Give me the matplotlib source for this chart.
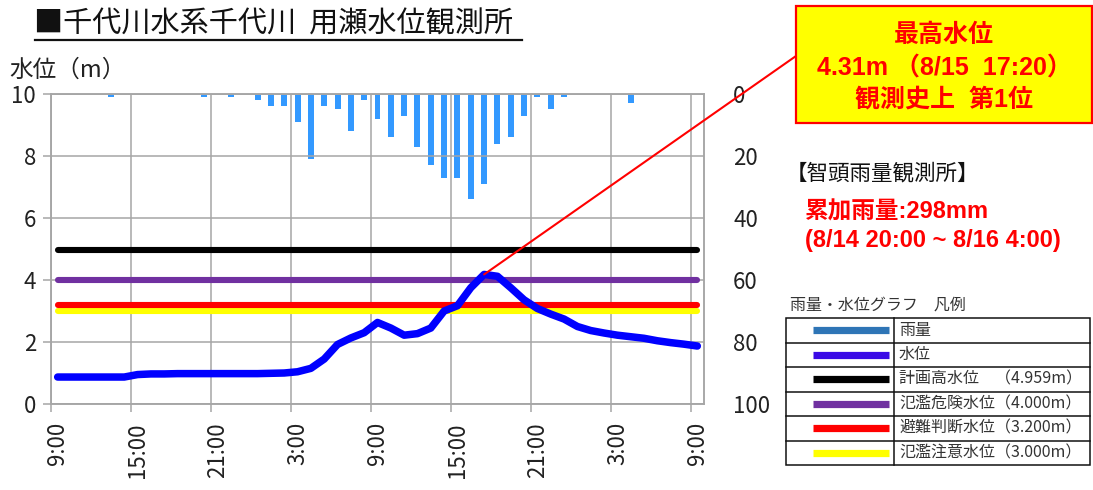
import numpy as np
import matplotlib.pyplot as plt
from matplotlib.patches import Rectangle, ConnectionPatch
from matplotlib.lines import Line2D

plt.rcParams['font.family'] = ['Noto Sans CJK JP', 'DejaVu Sans']

W, H = 1093, 490

# hourly categories, 8/14 9:00 ... 8/16 9:00
tick_labels = ['9:00', '15:00', '21:00', '3:00', '9:00', '15:00', '21:00', '3:00', '9:00']
level = [0.87, 0.87, 0.87, 0.87, 0.87, 0.87, 0.95, 0.97, 0.97, 0.98,
         0.98, 0.98, 0.98, 0.98, 0.98, 0.98, 0.99, 1.00, 1.04, 1.15,
         1.45, 1.92, 2.13, 2.30, 2.63, 2.45, 2.22, 2.27, 2.45, 3.00,
         3.17, 3.75, 4.18, 4.12, 3.75, 3.36, 3.08, 2.90, 2.74, 2.50,
         2.37, 2.29, 2.22, 2.17, 2.12, 2.04, 1.98, 1.93, 1.87]

# rainfall (mm/h) at Chizu, category index -> value
rain_hours = [4, 11, 13] + list(range(15, 39)) + [43]
rain_mm = [1, 1, 1, 2, 4, 4, 9, 21, 4, 5, 12, 2, 8, 14, 7, 17, 23, 27, 27,
           34, 29, 16, 14, 7, 1, 5, 1, 3]

thr_values = [3.0, 3.2, 4.0, 4.959]
thr_colors = ['#FFFF00', '#FF0000', '#7030A0', '#000000']

legend_names = ['雨量', '水位', '計画高水位　（4.959m）', '氾濫危険水位（4.000m）',
                '避難判断水位（3.200m）', '氾濫注意水位（3.000m）']
legend_colors = ['#2E75B6', '#3A0AE6', '#000000', '#7030A0', '#FF0000', '#FFFF00']


def fx(x):
    return x / W


def fy(y):
    return 1 - y / H


fig = plt.figure(figsize=(W / 100, H / 100), dpi=100)
ax = fig.add_axes([fx(51), fy(404), fx(704) - fx(51), fy(94) - fy(404)])
ax2 = ax.twinx()

n = len(level)
pos = np.arange(n) + 0.5
grid_c = '#A6A6A6'

# rain bars hanging from top on inverted secondary axis
ax2.bar(np.array(rain_hours) + 0.5, rain_mm, width=0.45, color='#3399FF', zorder=2)
ax2.set_ylim(100, 0)
ax2.set_yticks(range(0, 101, 20))
ax2.tick_params(axis='y', length=0, pad=21, labelsize=16, labelcolor='#222222')

ax.set_zorder(ax2.get_zorder() + 1)
ax.patch.set_visible(False)

for v, c in zip(thr_values, thr_colors):
    ax.plot([pos[0], pos[-1]], [v, v], color=c, lw=4.4, solid_capstyle='round', zorder=3)
ax.plot(pos, level, color='#0000FF', lw=5.4, solid_capstyle='round',
        solid_joinstyle='round', zorder=4)

ax.set_xlim(0, n)
ax.set_ylim(0, 10)
ax.set_yticks(range(0, 11, 2))
ax.set_xticks(np.arange(0, n, 6))
ax.set_xticklabels([])
ax.set_xticks(np.arange(0, n, 6) + 0.5, minor=True)
ax.set_xticklabels(tick_labels, minor=True, rotation=90)
ax.tick_params(axis='x', which='major', length=5.5, color=grid_c, width=1.1)
ax.tick_params(axis='x', which='minor', length=0, pad=13, labelsize=16, labelcolor='#222222')
ax.tick_params(axis='y', length=5.8, color=grid_c, width=1.1, pad=5,
               labelsize=16, labelcolor='#222222')
ax.grid(True, color=grid_c, lw=1.1, zorder=1)
for a in (ax, ax2):
    for s in a.spines.values():
        s.set_color(grid_c)
        s.set_linewidth(1.1)

# title
fig.text(fx(34), fy(25), '■千代川水系千代川  用瀬水位観測所', fontsize=21,
         ha='left', va='center', color='#111111')
fig.add_artist(Line2D([fx(35), fx(522)], [fy(40), fy(40)], color='#111111', lw=1.6))
fig.text(fx(9), fy(70), '水位（m）', fontsize=17, ha='left', va='center', color='#222222')

# peak box and leader line
fig.add_artist(Rectangle((fx(796), fy(123)), fx(1092) - fx(796), fy(6) - fy(123),
                         facecolor='#FFFF00', edgecolor='#FF0000', lw=1.6))
peak_i = int(np.argmax(level))
fig.add_artist(ConnectionPatch(xyA=(pos[peak_i], level[peak_i]), coordsA=ax.transData,
                               xyB=(fx(796), fy(56)), coordsB=fig.transFigure,
                               color='#FF0000', lw=1.5, zorder=10))
bold_fam = ['Liberation Sans', 'Noto Sans CJK JP']
for y, t in zip([35, 68, 99], ['最高水位', '4.31m （8/15  17:20）', '観測史上  第1位']):
    fig.text(fx(944), fy(y), t, fontsize=18, fontweight='bold', color='#FF0000',
             ha='center', va='center', family=bold_fam)

fig.text(fx(786), fy(173), '【智頭雨量観測所】', fontsize=15.5, ha='left', va='center',
         color='#111111')
fig.text(fx(805), fy(212), '累加雨量:298mm', fontsize=17, fontweight='bold',
         color='#FF0000', ha='left', va='center', family=bold_fam)
fig.text(fx(805), fy(240), '(8/14 20:00 ~ 8/16 4:00)', fontsize=17, fontweight='bold',
         color='#FF0000', ha='left', va='center', family=bold_fam)

# legend table
fig.text(fx(790), fy(305), '雨量・水位グラフ　凡例', fontsize=11.5, ha='left', va='center',
         color='#333333')
top, rh = 318, 24.5
left, mid, right = 786, 894, 1090
bottom = top + rh * len(legend_names)
fig.add_artist(Rectangle((fx(left), fy(bottom)), fx(right) - fx(left), fy(top) - fy(bottom),
                         facecolor='none', edgecolor='#111111', lw=1.1))
fig.add_artist(Line2D([fx(mid), fx(mid)], [fy(top), fy(bottom)], color='#111111', lw=1.1))
for i, (name, c) in enumerate(zip(legend_names, legend_colors)):
    if i > 0:
        fig.add_artist(Line2D([fx(left), fx(right)], [fy(top + rh * i)] * 2,
                              color='#111111', lw=1.1))
    yc = top + rh * (i + 0.5)
    fig.add_artist(Line2D([fx(813), fx(889)], [fy(yc)] * 2, color=c, lw=5.2,
                          solid_capstyle='butt'))
    fig.text(fx(899), fy(yc), name, fontsize=11.5, ha='left', va='center', color='#333333')

fig.savefig('out.png', dpi=100)
